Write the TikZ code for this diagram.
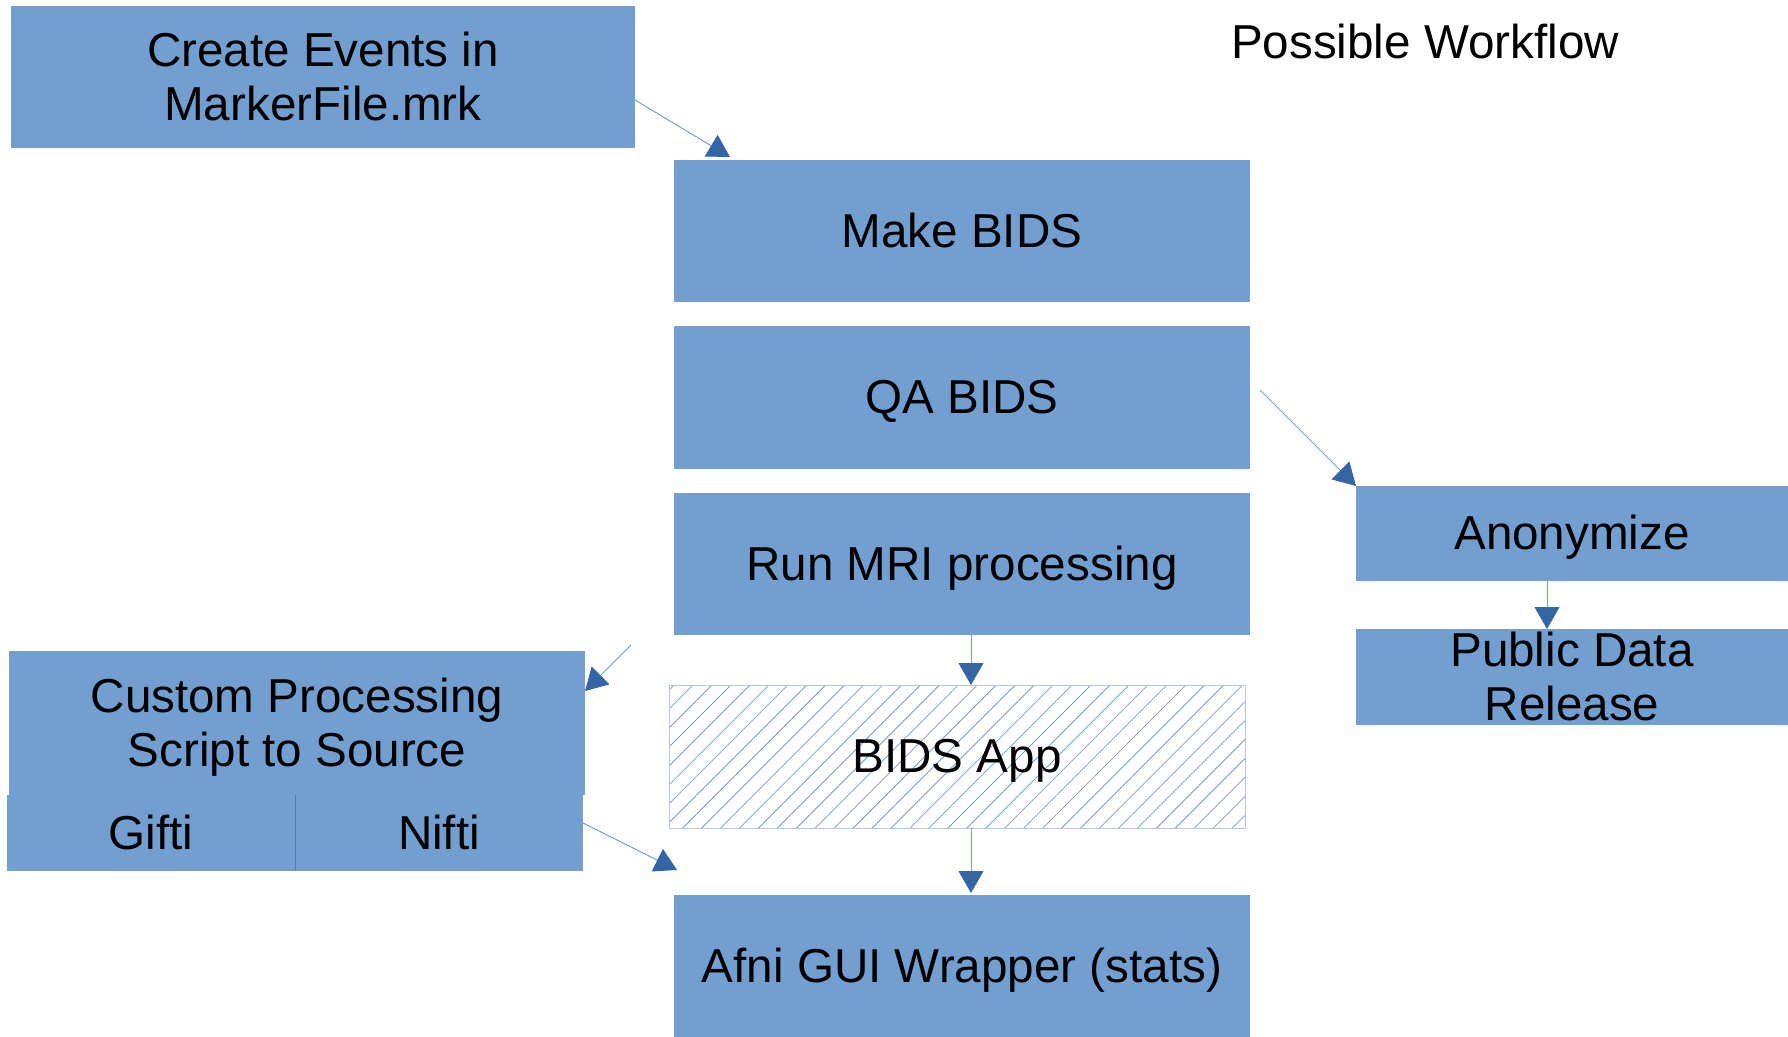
\documentclass[tikz,border=0pt]{standalone}
\usepackage{fontspec}
\setmainfont{Liberation Sans}
\usetikzlibrary{arrows.meta,calc,patterns.meta}
\definecolor{boxblue}{HTML}{729FCF}
\definecolor{tipblue}{HTML}{3465A4}
\definecolor{hatchblue}{HTML}{7A9CC8}
\definecolor{edgeblue}{HTML}{B4C7DC}
\tikzset{
  boxtext/.style={inner sep=0pt, outer sep=0pt, anchor=north west,
    align=center, font=\fontsize{23.8}{27.3}\selectfont,
    text height=21.5pt, text depth=5.05pt},
  twolines/.style={text height=48.8pt, text depth=5.05pt},
  twolinestight/.style={text height=45.8pt, text depth=2.05pt},
  box/.style={boxtext, fill=boxblue, draw=none},
  hatchbox/.style={boxtext, draw=edgeblue, line width=0.5pt,
    pattern={Lines[angle=45,distance=6.7pt,line width=0.4pt]}, pattern color=hatchblue},
  conn/.style={draw=boxblue, line width=0.5pt,
    -{Triangle[length=11pt,width=12.5pt,color=tipblue]}},
}
\begin{document}
\begin{tikzpicture}[x=0.5pt,y=-0.5pt]
\useasboundingbox (0,0) rectangle (1788,1037);
\node[box, twolines, minimum width=312pt, minimum height=71pt] (create) at (11,6) {Create Events in\\MarkerFile.mrk};
\node[box, minimum width=288pt, minimum height=71pt] (make) at (674,160) {Make BIDS};
\node[box, minimum width=288pt, minimum height=71.5pt] (qa) at (674,326) {QA BIDS};
\node[box, minimum width=288pt, minimum height=71pt] (run) at (674,493) {Run MRI processing};
\node[hatchbox, minimum width=288pt, minimum height=71.5pt] (app) at (669,685) {BIDS App};
\node[box, minimum width=288pt, minimum height=71pt] (afni) at (674,895) {Afni GUI Wrapper (stats)};
\node[box, twolines, minimum width=288pt, minimum height=72pt] (custom) at (9,651) {Custom Processing\\Script to Source};
\node[box, minimum width=144pt, minimum height=38pt] (gifti) at (7,795) {Gifti};
\node[box, minimum width=144pt, minimum height=38pt] (nifti) at (295,795) {Nifti};
\draw[draw=tipblue!60!boxblue, line width=0.4pt] (gifti.north east) -- (gifti.south east);
\node[box, minimum width=216pt, minimum height=47.5pt] (anon) at (1356,486) {Anonymize};
\node[box, twolinestight, minimum width=216pt, minimum height=48pt] (public) at (1356,629) {Public Data\\Release};
\node[font=\fontsize{23.8}{27.3}\selectfont, inner sep=0pt] (title) at (1425,41) {Possible Workflow};
\coordinate (free) at (631,645);
\draw[conn] ($(create.north east)+(0,94)$) -- ($(make.north west)+(56,-3)$);
\draw[conn] ($(qa.north east)+(10,64)$) -- (anon.north west);
\draw[conn] ($(anon.south west)+(191,0)$) -- ($(public.north west)+(191,0)$);
\draw[conn] ($(run.south west)+(297,-6)$) -- ($(app.north west)+(302,0)$);
\draw[conn] ($(app.south west)+(302,0)$) -- ($(afni.north west)+(297,-2)$);
\draw[conn] (free) -- ($(custom.north east)+(0,40)$);
\draw[conn] ($(nifti.north east)+(0,28)$) -- ($(afni.north west)+(3,-25)$);
\end{tikzpicture}
\end{document}
